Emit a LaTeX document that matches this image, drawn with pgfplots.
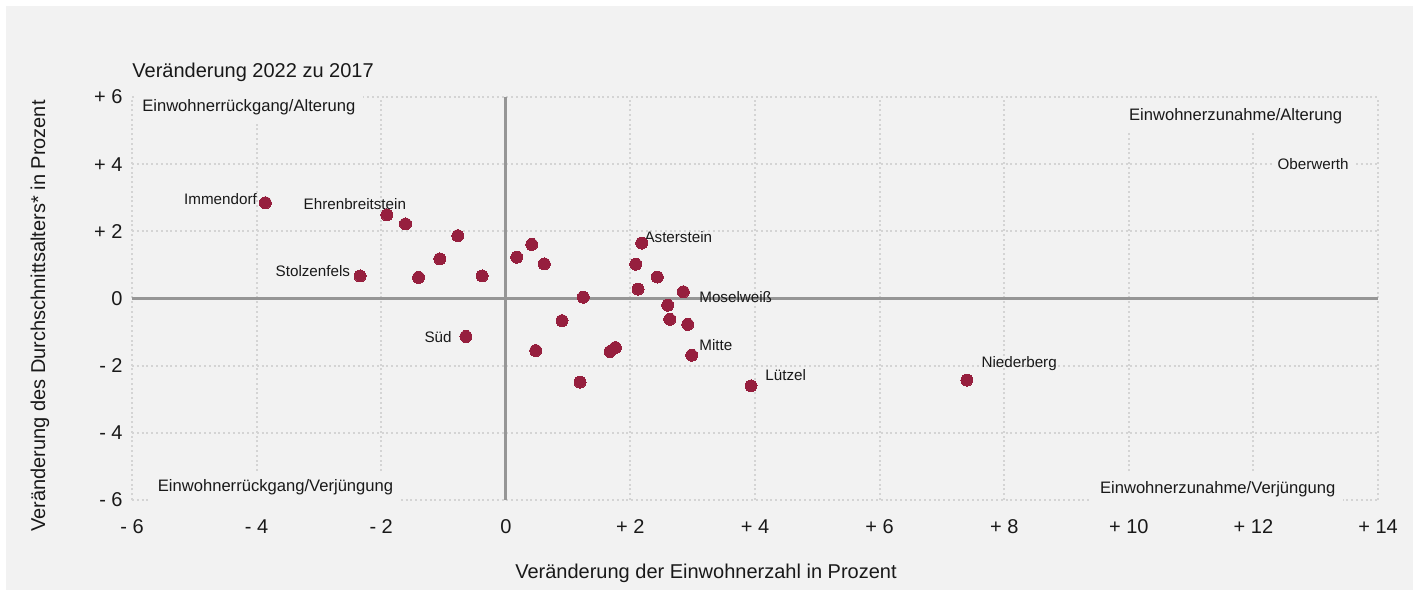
\documentclass[border=0pt]{standalone}
\usepackage{fontspec}
\setmainfont{Liberation Sans}
\usepackage{pgfplots}
\pgfplotsset{compat=1.18}
\definecolor{bg}{RGB}{242,242,242}
\definecolor{dot}{RGB}{150,31,62}
\definecolor{zero}{RGB}{150,150,150}
\definecolor{gridc}{RGB}{212,212,212}
\definecolor{txt}{RGB}{25,25,25}
\begin{document}
\begin{tikzpicture}[x=1bp,y=1bp]
\fill[white] (0,0) rectangle (709.5,298);
\fill[bg] (3,3) rectangle (706.5,295);
\path[use as bounding box] (0,0) rectangle (709.5,298);
\node[anchor=west, inner sep=0pt, text=txt, font=\fontsize{10bp}{12bp}\selectfont] at (66,262) {Veränderung 2022 zu 2017};
\node[rotate=90, inner sep=0pt, text=txt, font=\fontsize{10bp}{12bp}\selectfont] at (20,140) {Veränderung des Durchschnittsalters* in Prozent};
\node[inner sep=0pt, text=txt, font=\fontsize{10bp}{12bp}\selectfont] at (353,11.5) {Veränderung der Einwohnerzahl in Prozent};
\begin{axis}[
  at={(66bp,48bp)}, anchor=south west, scale only axis,
  width=623bp, height=201.5bp,
  xmin=-6, xmax=14, ymin=-6, ymax=6,
  axis line style={draw=none}, major tick length=0pt, tick style={draw=none},
  xtick={-6,-4,...,14},
  xticklabels={- 6,- 4,- 2,0,+ 2,+ 4,+ 6,+ 8,+ 10,+ 12,+ 14},
  ytick={-6,-4,...,6},
  yticklabels={- 6,- 4,- 2,0,+ 2,+ 4,+ 6},
  grid=major,
  major grid style={gridc, line width=1bp, dash pattern=on 1bp off 1.4bp},
  ticklabel style={font=\fontsize{10bp}{12bp}\selectfont, text=txt, inner sep=0pt},
  xticklabel style={anchor=north, yshift=-9.5bp},
  yticklabel style={anchor=east, xshift=-4.5bp},
  clip=false,
]
\draw[zero, line width=1.5bp] (axis cs:0,-6) -- (axis cs:0,6);
\draw[zero, line width=1.5bp] (axis cs:-6,0) -- (axis cs:14,0);
\addplot[only marks, mark=*, mark size=3bp, draw=dot, fill=dot, color=dot, mark options={draw=dot, fill=dot, line width=0pt}] coordinates {
(-3.86,2.85) (-1.91,2.49) (-1.61,2.22) (-0.77,1.87) (-1.06,1.18)
(-2.34,0.67) (-1.40,0.63) (-0.38,0.67) (0.416,1.61) (0.175,1.23)
(0.618,1.03) (1.244,0.04) (0.902,-0.66) (-0.64,-1.13) (0.48,-1.55)
(1.191,-2.49) (1.673,-1.58) (1.758,-1.46) (2.181,1.65) (2.085,1.02)
(2.432,0.64) (2.122,0.28) (2.849,0.20) (2.599,-0.20) (2.631,-0.62)
(2.92,-0.77) (2.984,-1.69) (3.936,-2.60) (7.40,-2.43)
};
\begin{scope}[every node/.style={inner sep=0pt, text=txt, font=\fontsize{7.6bp}{9bp}\selectfont}]
\node[anchor=east] at (axis cs:-3.99,2.96) {Immendorf};
\node[anchor=west] at (axis cs:-3.25,2.81) {Ehrenbreitstein};
\node[anchor=west] at (axis cs:-3.70,0.82) {Stolzenfels};
\node[anchor=west] at (axis cs:-1.31,-1.15) {Süd};
\node[anchor=west] at (axis cs:2.22,1.83) {Asterstein};
\node[anchor=west] at (axis cs:3.10,0.045) {Moselweiß};
\node[anchor=west] at (axis cs:3.10,-1.38) {Mitte};
\node[anchor=west] at (axis cs:4.16,-2.28) {Lützel};
\node[anchor=west] at (axis cs:7.63,-1.95) {Niederberg};
\node[anchor=east, fill=bg, inner sep=3bp] at (axis cs:13.63,4.0) {Oberwerth};
\end{scope}
\begin{scope}[every node/.style={fill=bg, inner sep=4bp, text=txt, font=\fontsize{8.3bp}{10bp}\selectfont}]
\node[anchor=west] at (axis cs:-5.97,5.70) {Einwohnerrückgang/Alterung};
\node[anchor=east] at (axis cs:13.56,5.43) {Einwohnerzunahme/Alterung};
\node[anchor=west] at (axis cs:-5.72,-5.61) {Einwohnerrückgang/Verjüngung};
\node[anchor=east] at (axis cs:13.45,-5.67) {Einwohnerzunahme/Verjüngung};
\end{scope}
\end{axis}
\end{tikzpicture}
\end{document}
